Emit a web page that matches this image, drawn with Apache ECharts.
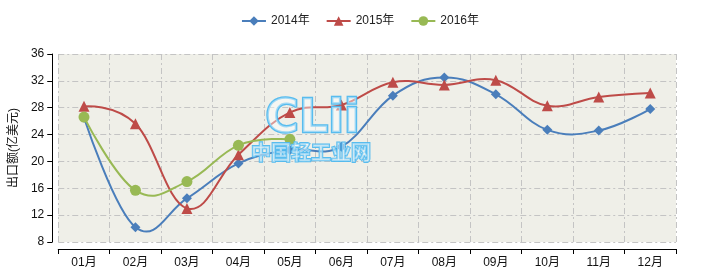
<!DOCTYPE html>
<html>
<head>
<meta charset="utf-8">
<script src="https://cdn.jsdelivr.net/npm/echarts@6/dist/echarts.min.js"></script>
<style>
html,body{margin:0;padding:0;background:#fff;}
#c{width:720px;height:278px;}
</style>
</head>
<body>
<div id="c"></div>
<script>
const months = ['01月','02月','03月','04月','05月','06月','07月','08月','09月','10月','11月','12月'];
const s2014 = [26.5, 10.2, 14.5, 19.7, 21.7, 22.2, 29.8, 32.5, 30.0, 24.7, 24.6, 27.8];
const s2015 = [28.2, 25.6, 13.0, 21.0, 27.3, 28.4, 31.8, 31.4, 32.1, 28.3, 29.6, 30.2];
const s2016 = [26.6, 15.7, 17.0, 22.4, 23.3];
const yTicks = {min: 8, max: 36, interval: 4};
const yName = '出口额(亿美元)';
const legendNames = ['2014年','2015年','2016年'];

const COLORS = ['#4a7ebb','#be4b48','#98b954'];
const FONT = 'Liberation Sans, Noto Sans CJK SC, sans-serif';
const chart = echarts.init(document.getElementById('c'), null, {renderer:'canvas'});
const dashDot = {color:'#c4c4c4', width:1, type:[6,3,2,3]};

// spline through the points (smoothing 1.5, control points aligned through each point)
function splineRenderer(values, color){
  return function(params, api){
    const pts = values.map((v,i)=>api.coord([i, v]));
    const n = pts.length, sm = 1.5, den = sm + 1;
    const L = [], R = [];
    for (let i=0;i<n;i++){
      const [x,y] = pts[i];
      if (i===0 || i===n-1){ L.push([x,y]); R.push([x,y]); continue; }
      const [lx,ly] = pts[i-1], [nx,ny] = pts[i+1];
      const lcx = (sm*x+lx)/den; let lcy = (sm*y+ly)/den;
      const rcx = (sm*x+nx)/den; let rcy = (sm*y+ny)/den;
      let corr = 0;
      if (rcx !== lcx) corr = ((rcy-lcy)*(rcx-x))/(rcx-lcx) + y - rcy;
      lcy += corr; rcy += corr;
      L.push([lcx,lcy]); R.push([rcx,rcy]);
    }
    const children = [];
    for (let i=1;i<n;i++){
      children.push({type:'bezierCurve', shape:{
        x1:pts[i-1][0], y1:pts[i-1][1], cpx1:R[i-1][0], cpy1:R[i-1][1],
        cpx2:L[i][0], cpy2:L[i][1], x2:pts[i][0], y2:pts[i][1]},
        style:{stroke:color, lineWidth:2, fill:null}});
    }
    return {type:'group', children};
  };
}

const allSeries = [s2014, s2015, s2016];
const symbols = ['diamond','triangle','circle'];
const symSizes = [10, 11, 11];
const series = [];
allSeries.forEach((arr, k)=>{
  series.push({type:'custom', name:'curve'+k, coordinateSystem:'cartesian2d', z:2,
    data:[[0, arr[0]]], renderItem: splineRenderer(arr, COLORS[k]), silent:true});
});
allSeries.forEach((arr, k)=>{
  series.push({name:legendNames[k], type:'line', data:arr, smooth:false, symbol:symbols[k], symbolSize:symSizes[k],
    z:3, showAllSymbol:true, lineStyle:{width:2, opacity:0}, itemStyle:{color:COLORS[k]}});
});

chart.setOption({
  animation:false,
  color:COLORS,
  textStyle:{fontFamily:FONT},
  legend:{
    top:10, left:'center', itemWidth:24, itemHeight:12, itemGap:16,
    textStyle:{fontSize:12, color:'#222', fontFamily:FONT},
    data:legendNames.map((nm,k)=>({name:nm, lineStyle:{opacity:1, width:2, color:COLORS[k]}}))
  },
  grid:{left:58, right:44, top:54, bottom:36, show:true, backgroundColor:'#efefe8', borderWidth:0},
  xAxis:{
    type:'category', data:months, boundaryGap:true, offset:7,
    axisLine:{lineStyle:{color:'#000', width:1}},
    axisTick:{show:true, length:5, lineStyle:{color:'#000'}},
    axisLabel:{color:'#111', fontSize:12, margin:8, fontFamily:FONT},
    splitLine:{show:true, lineStyle:dashDot}
  },
  yAxis:{
    type:'value', min:yTicks.min, max:yTicks.max, interval:yTicks.interval, offset:6,
    name:yName, nameLocation:'middle', nameGap:32, nameRotate:90,
    nameTextStyle:{fontSize:12, color:'#111', fontFamily:FONT},
    axisLine:{show:true, lineStyle:{color:'#000', width:1}},
    axisTick:{show:true, length:5, lineStyle:{color:'#000'}},
    axisLabel:{color:'#111', fontSize:12, margin:8, fontFamily:FONT},
    splitLine:{show:true, lineStyle:dashDot}
  },
  graphic:[
    {type:'text', left:264, top:96, z:100, silent:true,
     style:{text:'CLii', font:'bold 46px DejaVu Sans', fill:'rgba(255,255,255,0.45)', stroke:'#4fb8ee', lineWidth:2.5, opacity:0.95}},
    {type:'text', left:250, top:142, z:100, silent:true,
     style:{text:'中国轻工业网', font:'bold 20px Noto Sans CJK SC', fill:'rgba(255,255,255,0.45)', stroke:'#4fb8ee', lineWidth:1.8, opacity:0.95}}
  ],
  series
});
</script>
</body>
</html>
